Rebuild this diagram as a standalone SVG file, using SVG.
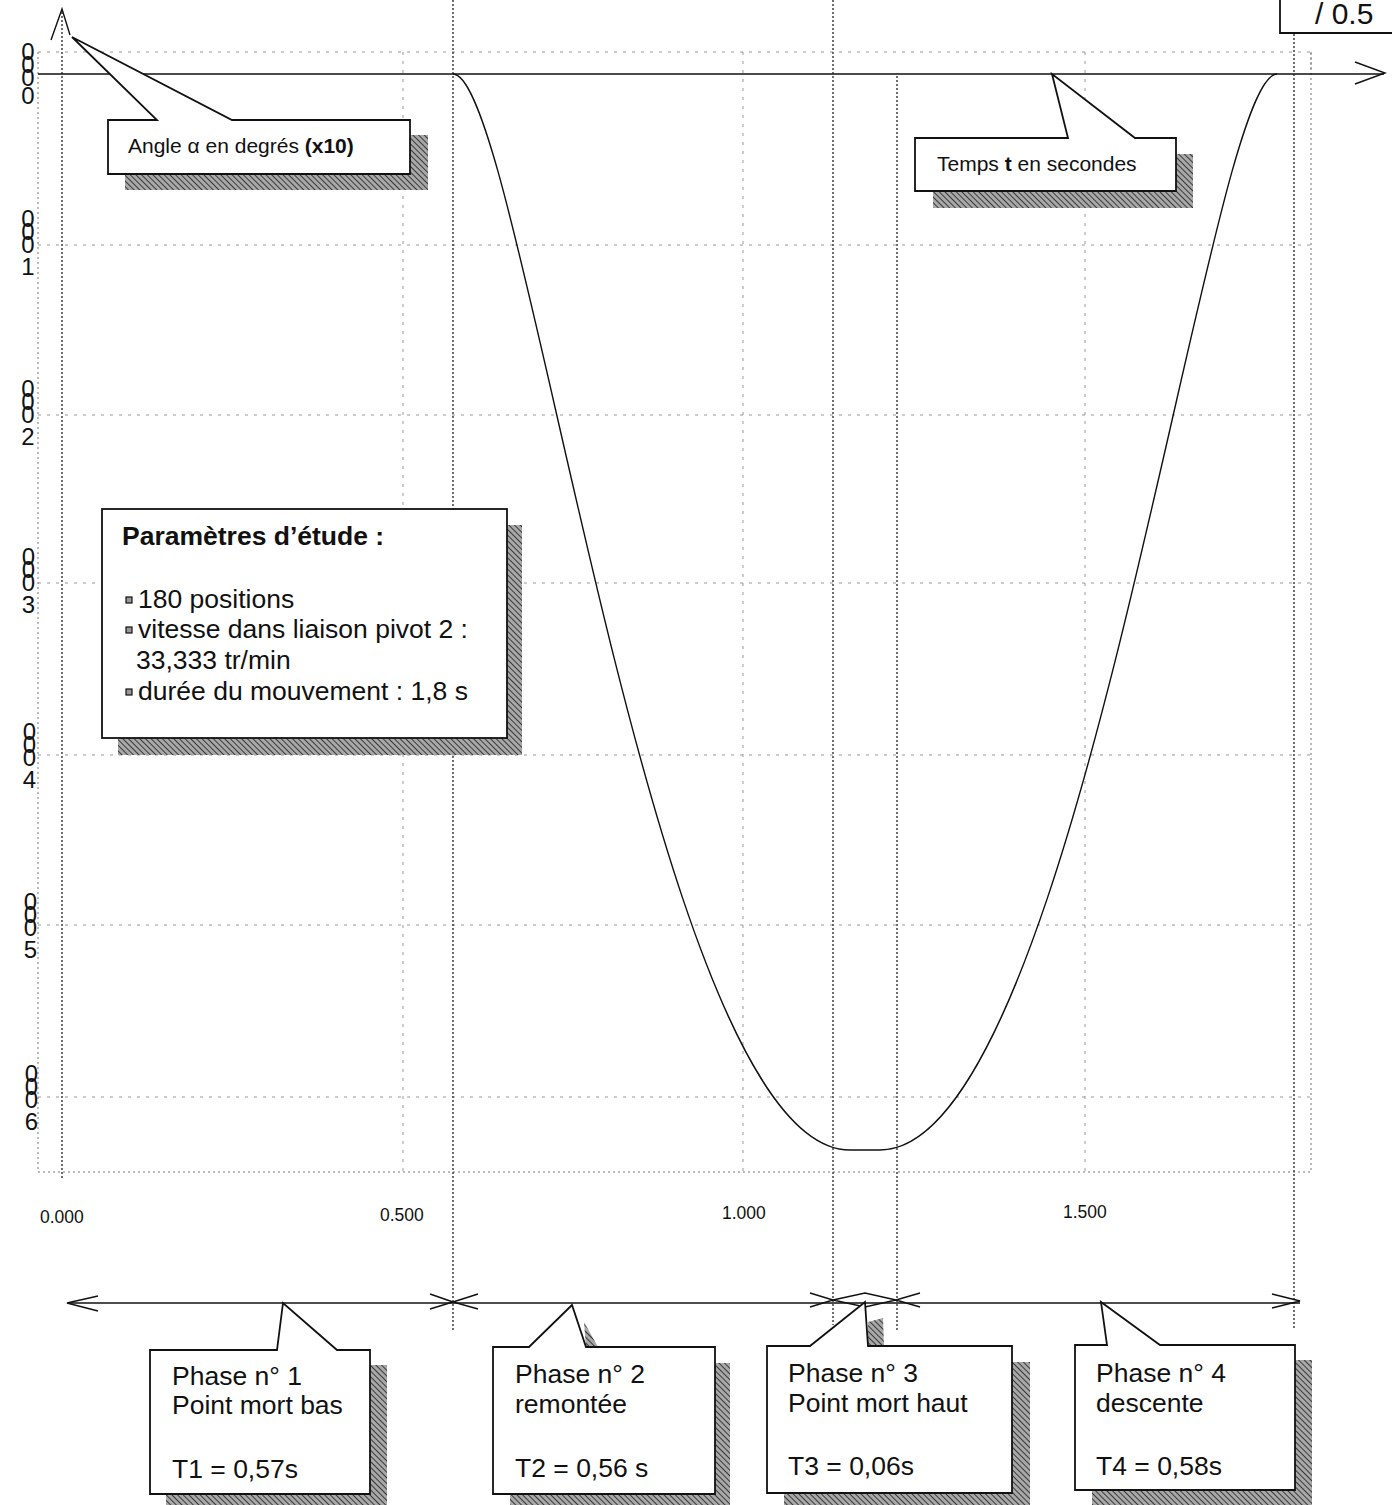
<svg xmlns="http://www.w3.org/2000/svg" width="1392" height="1505" viewBox="0 0 1392 1505">
<style>
text{font-family:"Liberation Sans",Arial,sans-serif;fill:#111}
.grid{stroke:#999;stroke-width:1;stroke-dasharray:3 6;fill:none}
.frame{stroke:#777;stroke-width:1;stroke-dasharray:2 3;fill:none}
.bound{stroke:#222;stroke-width:1.3;stroke-dasharray:2 2;fill:none}
.axis{stroke:#111;stroke-width:1.4;fill:none}
.box{fill:#fff;stroke:#111;stroke-width:1.8;stroke-linejoin:miter}
.shadow{fill:url(#hatch)}
.ystack{font-size:24px;writing-mode:vertical-rl;text-orientation:upright;letter-spacing:-14px}
.ylab{font-size:24px;text-anchor:middle}
.xlab{font-size:17.5px}
.ph{font-size:26.5px}
.par{font-size:26.5px}
.lbl{font-size:21px}
.dim{stroke:#111;stroke-width:1.5;fill:none}
</style>
<defs>
<pattern id="hatch" width="4" height="4" patternUnits="userSpaceOnUse" patternTransform="rotate(-45)">
<rect width="4" height="4" fill="#a8a8a8"/>
<line x1="0" y1="0" x2="0" y2="4" stroke="#333" stroke-width="1.9"/>
</pattern>
</defs>
<rect width="1392" height="1505" fill="#fff"/>

<g id="grid">
<path class="grid" d="M38,52 H1311 M38,245 H1311 M38,415 H1311 M38,583 H1311 M38,755 H1311 M38,925 H1311 M38,1097 H1311"/>
<path class="grid" d="M403,52 V1172 M743,52 V1172 M1085,52 V1172"/>
<path class="frame" d="M38,52 V1172 H1311 V52 M1311,52 V72"/>
</g>

<g id="axes">
<path class="bound" d="M62,12 V1178"/>
<path class="axis" d="M51,40 L62,9 L70,35"/>
<path class="axis" d="M38,74 H1384"/>
<path class="axis" d="M1355,62 L1385,73 L1355,84"/>
</g>

<g id="y-labels">
<text class="ystack" x="28" y="38">000</text><text class="ylab" x="28" y="104">0</text>
<text class="ystack" x="28" y="205">000</text><text class="ylab" x="28" y="275">1</text>
<text class="ystack" x="28" y="375">000</text><text class="ylab" x="28" y="445">2</text>
<text class="ystack" x="28.5" y="543">000</text><text class="ylab" x="28.5" y="613">3</text>
<text class="ystack" x="29.5" y="718">000</text><text class="ylab" x="29.5" y="788">4</text>
<text class="ystack" x="30.5" y="888">000</text><text class="ylab" x="30.5" y="958">5</text>
<text class="ystack" x="31.5" y="1060">000</text><text class="ylab" x="31.5" y="1130">6</text>
</g>

<g id="x-labels">
<text class="xlab" x="40" y="1223">0.000</text>
<text class="xlab" x="380" y="1221">0.500</text>
<text class="xlab" x="722" y="1219">1.000</text>
<text class="xlab" x="1063" y="1218">1.500</text>
</g>

<g id="phase-boundaries">
<path class="bound" d="M453,0 V1330 M833,0 V1325 M897,76 V1330 M1294,34 V1330"/>
</g>

<g id="curve">
<path d="M453,74 C523,74 650,1150 850,1150 H880 C1080,1150 1207,74 1277,74" fill="none" stroke="#111" stroke-width="1.4"/>
</g>

<g id="scale-box">
<path class="box" d="M1280,-4 V33 H1396" fill="#fff"/>
<text x="1315" y="24" style="font-size:30px">/ 0.5</text>
</g>

<g id="angle-label">
<rect class="shadow" x="125" y="135" width="303" height="55"/>
<path class="box" d="M108,120 H157 L72,37 L232,120 H410 V174 H108 Z"/>
<text class="lbl" x="128" y="153">Angle α en degrés <tspan font-weight="bold">(x10)</tspan></text>
</g>

<g id="time-label">
<rect class="shadow" x="933" y="154" width="260" height="54"/>
<path class="box" d="M915,138 H1068 L1052,74 L1135,138 H1176 V191 H915 Z"/>
<text class="lbl" x="937" y="171">Temps <tspan font-weight="bold">t</tspan> en secondes</text>
</g>

<g id="parameters">
<rect class="shadow" x="118" y="525" width="404" height="230"/>
<rect class="box" x="102" y="509" width="405" height="229"/>
<text class="par" x="122" y="545" font-weight="bold">Paramètres d’étude :</text>
<rect x="126" y="597" width="6" height="6" fill="#999" stroke="#111" stroke-width="1.2"/>
<rect x="126" y="627" width="6" height="6" fill="#999" stroke="#111" stroke-width="1.2"/>
<rect x="126" y="689" width="6" height="6" fill="#999" stroke="#111" stroke-width="1.2"/>
<text class="par" x="138" y="608">180 positions</text>
<text class="par" x="138" y="638">vitesse dans liaison pivot 2 :</text>
<text class="par" x="136" y="669">33,333 tr/min</text>
<text class="par" x="138" y="700">durée du mouvement : 1,8 s</text>
</g>

<g id="connectors">
<path class="dim" d="M68,1303 H1300"/>
<path class="dim" d="M98,1296 L67,1303 L98,1311"/>
<path class="dim" d="M430,1294 L453,1302 L430,1309 M478,1294 L453,1302 L478,1309"/>
<path class="dim" d="M810,1293 L833,1300 L810,1307 M833,1300 L865,1293 L896,1300 L865,1307 Z M920,1293 L896,1300 L920,1307"/>
<path class="dim" d="M1272,1294 L1300,1301 L1272,1308"/>
</g>

<g id="phase1">
<rect class="shadow" x="166" y="1365" width="221" height="145"/>
<path class="box" d="M150,1350 H277 L283,1303 L337,1350 H370 V1494 H150 Z"/>
<text class="ph" x="172" y="1385">Phase n° 1</text>
<text class="ph" x="172" y="1414">Point mort bas</text>
<text class="ph" x="172" y="1478">T1 = 0,57s</text>
</g>

<g id="phase2">
<polygon class="shadow" points="584,1322 598,1347 586,1347"/>
<rect class="shadow" x="510" y="1363" width="220" height="147"/>
<path class="box" d="M493,1347 H529 L572,1305 L586,1347 H715 V1494 H493 Z"/>
<text class="ph" x="515" y="1383">Phase n° 2</text>
<text class="ph" x="515" y="1413">remontée</text>
<text class="ph" x="515" y="1477">T2 = 0,56 s</text>
</g>

<g id="phase3">
<polygon class="shadow" points="868,1322 883,1318 884,1346 868,1346"/>
<rect class="shadow" x="784" y="1362" width="246" height="148"/>
<path class="box" d="M767,1346 H810 L865,1302 L868,1346 H1012 V1493 H767 Z"/>
<text class="ph" x="788" y="1382">Phase n° 3</text>
<text class="ph" x="788" y="1412">Point mort haut</text>
<text class="ph" x="788" y="1475">T3 = 0,06s</text>
</g>

<g id="phase4">
<rect class="shadow" x="1092" y="1360" width="220" height="150"/>
<path class="box" d="M1075,1345 H1107 L1101,1302 L1160,1345 H1295 V1490 H1075 Z"/>
<text class="ph" x="1096" y="1382">Phase n° 4</text>
<text class="ph" x="1096" y="1412">descente</text>
<text class="ph" x="1096" y="1475">T4 = 0,58s</text>
</g>
</svg>
